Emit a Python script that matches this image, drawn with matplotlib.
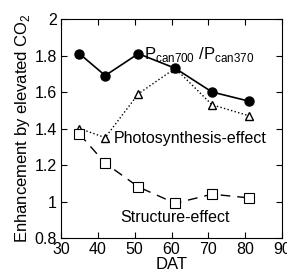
import matplotlib.pyplot as plt

plt.rcParams['font.family'] = ['Liberation Sans', 'DejaVu Sans']

dat = [35, 42, 51, 61, 71, 81]
pcan = [1.81, 1.69, 1.81, 1.73, 1.60, 1.55]
photo = [1.40, 1.35, 1.59, 1.73, 1.53, 1.47]
struct = [1.37, 1.21, 1.08, 0.99, 1.04, 1.02]

fig = plt.figure(figsize=(2.87, 2.78), dpi=100)
ax = fig.add_axes([61 / 287, 40 / 278, 221 / 287, 219 / 278])

ax.plot(dat, pcan, '-', color='black', lw=1.2, marker='o', ms=6.5,
        markerfacecolor='black', zorder=3)
ax.plot(dat, photo, ':', color='black', lw=1.0, marker='^', ms=5.5,
        markerfacecolor='white', markeredgewidth=1.0, zorder=2)
ax.plot(dat, struct, color='black', lw=1.0, dashes=(7, 5), marker='s', ms=6.5,
        markerfacecolor='white', markeredgewidth=0.8, zorder=2)

ax.text(52.5, 1.78, r'P$_{\mathregular{can700}}$ /P$_{\mathregular{can370}}$', fontsize=12)
ax.text(44.3, 1.32, 'Photosynthesis-effect', fontsize=11.5)
ax.text(46, 0.89, 'Structure-effect', fontsize=11.5)

ax.set_xlim(30, 90)
ax.set_ylim(0.8, 2.0)
ax.set_xticks([30, 40, 50, 60, 70, 80, 90])
ax.set_yticks([0.8, 1.0, 1.2, 1.4, 1.6, 1.8, 2.0])
ax.set_yticklabels(['0.8', '1', '1.2', '1.4', '1.6', '1.8', '2'])
ax.tick_params(direction='in', top=True, right=True, labelsize=11.5, length=4)
ax.tick_params(axis='x', pad=3)
ax.tick_params(axis='y', pad=3)
for s in ax.spines.values():
    s.set_linewidth(0.8)

ax.set_xlabel('DAT', fontsize=12, labelpad=0)
ax.set_ylabel(r'Enhancement by elevated CO$_\mathregular{2}$', fontsize=12, labelpad=2)

fig.savefig('out.png', dpi=100)
